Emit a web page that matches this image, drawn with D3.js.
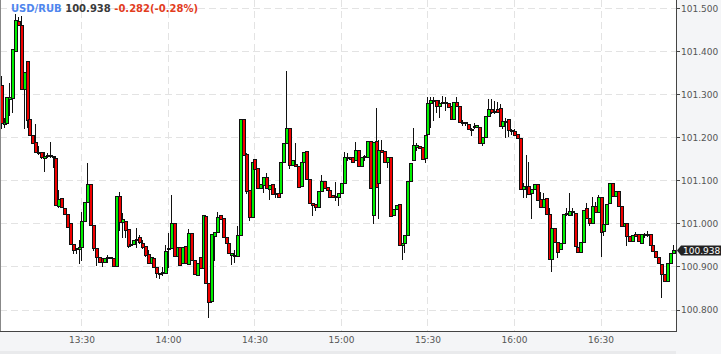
<!DOCTYPE html>
<html><head><meta charset="utf-8">
<script src="https://cdn.jsdelivr.net/npm/d3@7"></script>
<style>html,body{margin:0;padding:0;background:#f4f5f7;}svg{display:block;}</style>
</head><body><svg id="c" width="721" height="354"></svg>
<script>
const symbol = "USD/RUB";
const lastPrice = 100.938;
const change = -0.282;
const changePct = -0.28;
const startTime = "13:02";
const timeTicks = ["13:30","14:00","14:30","15:00","15:30","16:00","16:30"];
const priceTicks = [100.8,100.9,101.0,101.1,101.2,101.3,101.4,101.5];

const opens = [
101.322,101.231,101.233,101.289,101.291,101.400,101.470,101.461,101.312,101.377,
101.242,101.205,101.189,101.166,101.166,101.152,101.156,101.159,101.156,101.152,
101.040,101.059,101.036,101.022,101.001,100.952,100.943,100.940,100.945,101.005,
101.050,101.091,100.996,100.943,100.922,100.919,100.910,100.919,100.922,100.919,
100.901,101.063,101.003,101.005,100.987,100.950,100.952,100.961,100.968,100.954,
100.947,100.929,100.908,100.919,100.899,100.885,100.885,100.885,100.940,100.943,
101.001,100.924,100.945,100.908,100.947,100.906,100.978,100.915,100.880,100.922,
100.896,101.017,100.861,100.819,100.971,100.980,101.019,101.012,100.968,100.954,
100.926,100.926,100.924,100.973,101.242,101.161,101.077,101.015,101.150,101.129,
101.082,101.089,101.108,101.080,101.091,101.068,101.071,101.071,101.143,101.187,
101.222,101.136,101.138,101.133,101.087,101.143,101.168,101.103,101.047,101.045,
101.038,101.075,101.098,101.084,101.077,101.066,101.061,101.061,101.071,101.094,
101.154,101.154,101.154,101.147,101.170,101.133,101.154,101.154,101.191,101.019,
101.191,101.094,101.170,101.168,101.143,101.154,101.019,101.033,101.045,100.950,
100.954,100.973,101.098,101.147,101.177,101.180,
101.177,101.152,101.208,
101.280,101.287,101.287,101.273,101.282,101.280,101.280,101.273,101.242,101.282,
101.273,101.235,101.233,101.231,
101.219,101.224,101.224,101.224,101.187,
101.201,101.249,101.266,101.259,101.266,101.268,101.226,101.238,101.242,101.217,
101.215,101.208,101.198,101.080,101.087,101.087,101.071,101.080,101.091,101.057,
101.038,101.059,101.022,100.917,100.989,100.957,100.940,100.954,101.022,
101.019,101.029,101.024,100.945,100.933,100.957,101.036,101.012,101.001,101.040,
101.026,101.061,100.982,100.998,101.047,101.094,101.063,101.075,101.040,100.994,
101.001,100.971,100.959,100.975,100.975,100.954,100.975,100.973,100.975,100.950,
100.936,100.922,100.906,100.882,100.866,100.908,100.931];

const highs = [
101.342,101.245,101.294,101.326,101.405,101.486,101.480,101.482,101.352,101.377,
101.242,101.205,101.231,101.180,101.166,101.166,101.163,101.189,101.156,101.154,
101.077,101.059,101.036,101.022,101.001,100.952,100.943,100.961,101.026,101.050,
101.140,101.091,100.996,100.943,100.922,100.919,100.919,100.926,100.922,100.919,
101.063,101.073,101.024,101.005,100.987,100.968,100.961,100.989,100.973,100.961,
100.947,100.938,100.922,100.919,100.899,100.885,100.899,100.950,100.978,101.066,
101.001,100.945,100.945,100.945,100.947,100.987,100.978,100.915,100.908,100.922,
101.019,101.017,100.861,100.975,100.980,101.026,101.019,101.012,100.968,100.954,
100.931,100.938,100.994,101.242,101.242,101.163,101.077,101.143,101.150,101.129,
101.091,101.108,101.117,101.089,101.091,101.082,101.071,101.143,101.187,101.354,
101.222,101.147,101.187,101.133,101.143,101.166,101.168,101.103,101.047,101.045,
101.075,101.112,101.098,101.084,101.077,101.066,101.096,101.071,101.094,101.166,
101.163,101.154,101.154,101.189,101.170,101.154,101.159,101.191,101.191,101.189,
101.268,101.194,101.194,101.168,101.154,101.154,101.033,101.043,101.045,100.954,
100.973,101.098,101.140,101.222,101.187,101.180,
101.177,101.205,101.294,
101.294,101.294,101.287,101.287,101.296,101.294,101.280,101.273,101.282,101.294,
101.273,101.240,101.235,101.231,
101.222,101.233,101.228,101.224,101.201,
101.249,101.289,101.289,101.284,101.282,101.277,101.238,101.245,101.242,101.219,
101.219,101.208,101.198,101.094,101.159,101.143,101.080,101.091,101.091,101.073,
101.071,101.059,101.036,100.989,100.989,100.957,100.954,101.022,101.036,
101.071,101.036,101.024,100.945,100.957,101.031,101.047,101.012,101.061,101.050,
101.066,101.061,100.998,101.045,101.094,101.094,101.075,101.075,101.040,101.001,
101.001,100.971,100.973,100.980,100.975,100.975,100.978,100.982,100.975,100.950,
100.936,100.922,100.906,100.882,100.908,100.931,100.950];

const lows = [
101.222,101.224,101.233,101.252,101.259,101.400,101.461,101.312,101.222,101.224,
101.205,101.187,101.166,101.161,101.152,101.122,101.154,101.154,101.131,101.043,
101.038,101.038,101.022,100.991,100.952,100.931,100.931,100.908,100.915,101.005,
101.050,100.996,100.938,100.903,100.910,100.901,100.910,100.910,100.919,100.901,
100.901,100.985,100.968,100.968,100.945,100.950,100.952,100.945,100.954,100.943,
100.924,100.908,100.908,100.899,100.875,100.873,100.880,100.885,100.899,100.943,
100.924,100.924,100.903,100.908,100.908,100.906,100.915,100.882,100.880,100.896,
100.896,100.861,100.782,100.817,100.915,100.980,101.010,100.968,100.954,100.931,
100.906,100.910,100.924,100.973,101.159,101.071,101.008,101.015,101.126,101.082,
101.082,101.073,101.082,101.057,101.068,101.061,101.061,101.068,101.143,101.187,
101.129,101.136,101.133,101.084,101.087,101.143,101.103,101.047,101.019,101.031,
101.038,101.075,101.082,101.077,101.061,101.061,101.054,101.043,101.071,101.094,
101.147,101.150,101.143,101.147,101.133,101.133,101.147,101.154,101.082,101.001,
101.084,101.012,101.166,101.143,101.131,101.017,101.019,101.033,100.950,100.917,
100.933,100.973,101.098,101.147,101.170,101.175,
101.150,101.143,101.208,
101.224,101.240,101.259,101.247,101.280,101.263,101.270,101.242,101.242,101.273,
101.235,101.228,101.228,101.219,
101.205,101.222,101.224,101.187,101.182,
101.201,101.249,101.256,101.256,101.259,101.226,101.222,101.201,101.203,101.208,
101.205,101.198,101.080,101.061,101.061,101.068,101.012,101.080,101.054,101.038,
101.038,101.022,100.917,100.889,100.957,100.922,100.940,100.954,101.019,
101.019,101.019,100.947,100.933,100.933,100.957,101.012,100.996,101.001,101.026,
101.026,100.924,100.973,100.998,101.047,101.063,101.063,101.040,100.994,100.994,
100.950,100.959,100.959,100.971,100.959,100.954,100.968,100.971,100.950,100.936,
100.922,100.908,100.829,100.866,100.866,100.908,100.931];

const closes = [
101.233,101.235,101.294,101.294,101.405,101.472,101.461,101.312,101.352,101.240,
101.205,101.187,101.166,101.163,101.154,101.156,101.159,101.156,101.154,101.043,
101.057,101.038,101.022,100.991,100.952,100.938,100.940,100.945,101.005,101.050,
101.091,100.996,100.943,100.922,100.910,100.910,100.919,100.922,100.919,100.901,
101.063,101.003,101.010,100.985,100.947,100.952,100.961,100.964,100.957,100.945,
100.926,100.908,100.922,100.899,100.885,100.882,100.887,100.936,100.943,101.001,
100.924,100.945,100.903,100.945,100.908,100.978,100.915,100.882,100.908,100.896,
101.019,100.861,100.817,100.975,100.980,101.015,101.010,100.968,100.954,100.931,
100.931,100.924,100.973,101.242,101.159,101.075,101.015,101.143,101.126,101.082,
101.091,101.108,101.082,101.089,101.068,101.071,101.061,101.143,101.187,101.222,
101.136,101.147,101.133,101.084,101.143,101.166,101.103,101.047,101.043,101.038,
101.075,101.098,101.082,101.077,101.061,101.061,101.063,101.071,101.094,101.154,
101.152,101.150,101.143,101.170,101.133,101.154,101.156,101.191,101.082,101.189,
101.084,101.170,101.166,101.143,101.154,101.017,101.033,101.043,100.950,100.954,
100.973,101.098,101.140,101.182,101.182,101.175,
101.150,101.205,101.280,
101.287,101.284,101.273,101.280,101.280,101.282,101.270,101.242,101.282,101.273,
101.235,101.233,101.235,101.219,
101.217,101.226,101.228,101.187,101.201,
101.249,101.266,101.259,101.261,101.259,101.226,101.238,101.235,101.217,101.215,
101.205,101.198,101.080,101.087,101.084,101.068,101.080,101.091,101.054,101.038,
101.057,101.022,100.917,100.989,100.957,100.933,100.954,101.022,101.024,
101.029,101.026,100.947,100.933,100.957,101.031,101.012,101.001,101.040,101.026,
101.061,100.980,100.998,101.045,101.094,101.063,101.075,101.040,100.994,101.001,
100.971,100.959,100.973,100.971,100.959,100.975,100.973,100.975,100.950,100.936,
100.922,100.908,100.882,100.866,100.908,100.931,100.938];

const svg = d3.select("#c");
const W = 721, H = 354, plotR = 676, plotB = 331;
const parse = d3.timeParse("%H:%M");
const t0 = parse(startTime);
const candles = opens.map((o, i) => ({
  t: d3.timeMinute.offset(t0, i),
  o: o, c: closes[i],
  h: Math.max(highs[i], o, closes[i]),
  l: Math.min(lows[i], o, closes[i])
}));

const x = d3.scaleTime().domain([parse("13:30"), parse("16:30")]).range([81.4, 600.5]);
const y = d3.scaleLinear().domain([100.8, 101.5]).range([309.5, 8.3]);
const fmtPrice = v => v.toFixed(3);
const fmtSigned = (v, n) => (v < 0 ? "-" : "+") + Math.abs(v).toFixed(n);

// backgrounds
svg.append("rect").attr("x",0).attr("y",0).attr("width",W).attr("height",H).attr("fill","#f4f5f7");
svg.append("rect").attr("x",0).attr("y",351).attr("width",plotR).attr("height",3).attr("fill","#e9eaec");
svg.append("rect").attr("x",0).attr("y",0).attr("width",plotR).attr("height",plotB).attr("fill","#ffffff");

const g = svg.append("g").attr("shape-rendering","crispEdges");

// grid
const tickDates = timeTicks.map(parse);
g.selectAll("line.vg").data(tickDates).join("line")
  .attr("x1", d => Math.round(x(d)) + 0.5).attr("x2", d => Math.round(x(d)) + 0.5)
  .attr("y1", 0).attr("y2", plotB)
  .attr("stroke", "#e3e3e3").attr("stroke-dasharray", "7,4");
g.selectAll("line.hg").data(priceTicks).join("line")
  .attr("x1", 0).attr("x2", plotR)
  .attr("y1", d => Math.round(y(d)) + 0.5).attr("y2", d => Math.round(y(d)) + 0.5)
  .attr("stroke", "#e3e3e3").attr("stroke-dasharray", "7,4");

// candles: wicks first, bodies on top
const cg = g.append("g");
candles.forEach(d => {
  const cx = Math.round(x(d.t));
  cg.append("line")
    .attr("x1", cx + 0.5).attr("x2", cx + 0.5)
    .attr("y1", Math.round(y(d.h))).attr("y2", Math.round(y(d.l)) + 1)
    .attr("stroke", "#111");
});
candles.forEach(d => {
  const cx = Math.round(x(d.t));
  const up = d.c >= d.o;
  const yt = Math.round(y(Math.max(d.o, d.c)));
  const yb = Math.round(y(Math.min(d.o, d.c)));
  cg.append("rect")
    .attr("x", cx - 0.5).attr("y", yt + 0.5)
    .attr("width", 2.6).attr("height", Math.max(1, yb - yt))
    .attr("fill", up ? "#00f000" : "#f00000")
    .attr("stroke", "#111").attr("stroke-width", 1);
});

// frame
g.append("line").attr("x1",0.5).attr("x2",0.5).attr("y1",0).attr("y2",plotB).attr("stroke","#888");
g.append("line").attr("x1",0).attr("x2",plotR+1).attr("y1",plotB+0.5).attr("y2",plotB+0.5).attr("stroke","#444");
g.append("line").attr("x1",plotR+0.5).attr("x2",plotR+0.5).attr("y1",0).attr("y2",plotB+1).attr("stroke","#444");

// right axis
const ra = svg.append("g").attr("transform", `translate(${plotR},0)`);
const rightAxis = d3.axisRight(y).tickValues(priceTicks).tickFormat(fmtPrice).tickSize(4).tickPadding(1);
ra.call(rightAxis);
ra.select(".domain").remove();
ra.selectAll(".tick line").attr("stroke","#444").attr("shape-rendering","crispEdges");
ra.selectAll(".tick text").attr("fill","#555").attr("font-family","DejaVu Sans").attr("font-size","9px");

// bottom axis
const ba = svg.append("g").attr("transform", `translate(0,${plotB})`);
const bottomAxis = d3.axisBottom(x).tickValues(tickDates).tickFormat(d3.timeFormat("%H:%M")).tickSize(0).tickPadding(6);
ba.call(bottomAxis);
ba.select(".domain").remove();
ba.selectAll(".tick text").attr("fill","#555").attr("font-family","DejaVu Sans").attr("font-size","9px");

// last price badge
const yl = Math.round(y(lastPrice));
svg.append("path")
  .attr("d", `M${plotR+1},${yl+0.5} L${plotR+5},${yl-4.5} L${W},${yl-4.5} L${W},${yl+5.5} L${plotR+5},${yl+5.5} Z`)
  .attr("fill","#222");
svg.append("text").attr("x", plotR+7).attr("y", yl+0.5).attr("dy","0.35em")
  .attr("fill","#fff").attr("font-family","DejaVu Sans").attr("font-size","9px")
  .text(fmtPrice(lastPrice));

// header
const ht = svg.append("text").attr("x", 11).attr("y", 11.5)
  .attr("font-family","DejaVu Sans").attr("font-size","10px").attr("font-weight","bold");
ht.append("tspan").attr("fill","#4f86ee").text(symbol + " ");
ht.append("tspan").attr("fill","#3a3a3a").text(fmtPrice(lastPrice) + " ");
ht.append("tspan").attr("fill","#e23d1e").text(fmtSigned(change, 3) + "(" + fmtSigned(changePct, 2) + "%)");
</script></body></html>
